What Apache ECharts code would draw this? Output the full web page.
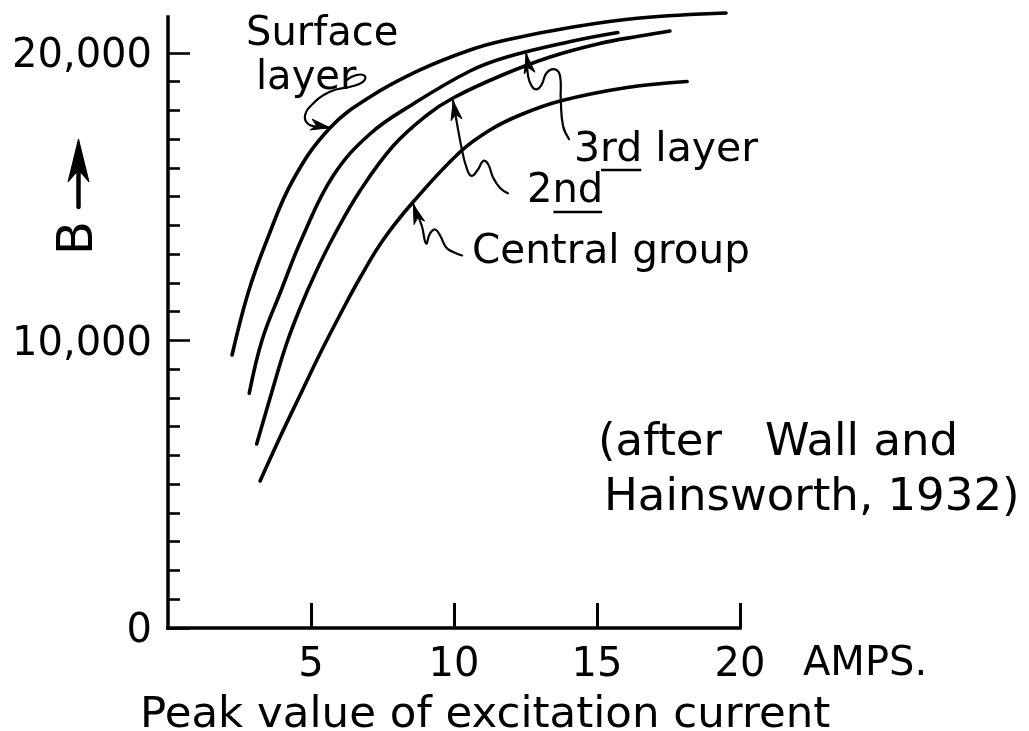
<!DOCTYPE html>
<html>
<head>
<meta charset="utf-8">
<title>B versus peak excitation current</title>
<script src="https://cdn.jsdelivr.net/npm/echarts@6/dist/echarts.min.js"></script>
<style>
  html, body { margin: 0; padding: 0; background: #fff; }
  #chart { width: 1029px; height: 731px; }
</style>
</head>
<body>
<div id="chart"></div>
<script>
// Flux density B against peak value of the excitation current (amps), one curve per layer.
const surfaceLayer = [[2.24, 9495], [2.80, 11651], [3.46, 13494], [4.37, 15581], [5.66, 17389], [7.06, 18468], [8.81, 19407], [10.56, 20102], [11.82, 20450], [14.16, 20902], [16.50, 21215], [19.51, 21389]];
const thirdLayer = [[2.84, 8163], [3.29, 10016], [3.92, 11651], [4.72, 13633], [5.77, 15720], [7.06, 17181], [8.57, 18224], [10.56, 19372], [11.85, 19859], [14.16, 20415], [15.73, 20711]];
const secondLayer = [[3.10, 6399], [3.63, 8208], [4.13, 9842], [4.62, 11129], [5.17, 12381], [5.80, 13633], [6.71, 15198], [7.87, 16763], [9.06, 17842], [9.97, 18433], [11.61, 19198], [13.36, 19859], [15.10, 20329], [16.50, 20589], [17.55, 20763]];
const centralGroup = [[3.22, 5113], [3.92, 6643], [4.62, 8104], [5.31, 9529], [6.01, 10886], [6.71, 12173], [7.52, 13494], [8.57, 14816], [10.21, 16555], [11.26, 17320], [12.31, 17842], [13.71, 18329], [16.05, 18798], [18.15, 19007]];

// Axis ticks and labels
const xTickValues = [5, 10, 15, 20];
const yMajorValues = [0, 10000, 20000];
const yMinorValues = [1000, 2000, 3000, 4000, 5000, 6000, 7000, 8000, 9000,
                      11000, 12000, 13000, 14000, 15000, 16000, 17000, 18000, 19000];

// Curve captions: where each arrow points to on its curve (amps, B)
const captionTips = {
  surface: [5.66, 17400],
  third: [12.53, 19950],
  second: [9.97, 18330],
  central: [8.58, 14720]
};

const FONT = 'DejaVu Sans';
const INK = '#000';

const chart = echarts.init(document.getElementById('chart'), null, { renderer: 'canvas' });

function curve(name, data) {
  return {
    name: name,
    type: 'line',
    data: data,
    xAxisIndex: 0,
    yAxisIndex: 0,
    showSymbol: false,
    smooth: 0.4,
    clip: false,
    lineStyle: { color: INK, width: 3.6, cap: 'round' },
    emphasis: { disabled: true },
    z: 3
  };
}

chart.setOption({
  animation: false,
  backgroundColor: '#fff',
  textStyle: { fontFamily: FONT, color: INK },
  grid: { left: 168, top: 17, width: 572, height: 611, containLabel: false, outerBoundsMode: 'none' },
  xAxis: {
    type: 'value',
    min: 0,
    max: 20,
    interval: 5,
    axisLine: { show: true, lineStyle: { color: INK, width: 3.5, cap: 'square' } },
    axisTick: { show: true, inside: true, length: 25, customValues: xTickValues, lineStyle: { color: INK, width: 3 } },
    axisLabel: { show: true, customValues: xTickValues, color: INK, fontFamily: FONT, fontSize: 40, margin: 18 },
    splitLine: { show: false }
  },
  yAxis: [
    {
      type: 'value',
      min: 0,
      max: 21250,
      position: 'left',
      axisLine: { show: true, lineStyle: { color: INK, width: 3.5, cap: 'square' } },
      axisTick: { show: true, inside: true, length: 22, customValues: yMajorValues, lineStyle: { color: INK, width: 2.6 } },
      axisLabel: {
        show: true, customValues: yMajorValues, color: INK, fontFamily: FONT, fontSize: 40, margin: 16,
        formatter: v => '{n|' + v.toLocaleString('en-US') + '}',
        rich: { n: { fontFamily: FONT, fontSize: 40, color: INK, padding: [8, 0, 0, 0] } }
      },
      splitLine: { show: false }
    },
    {
      type: 'value',
      min: 0,
      max: 21250,
      position: 'left',
      axisLine: { show: false },
      axisTick: { show: true, inside: true, length: 12, customValues: yMinorValues, lineStyle: { color: INK, width: 2.6 } },
      axisLabel: { show: false },
      splitLine: { show: false }
    }
  ],
  series: [
    curve('Surface layer', surfaceLayer),
    curve('3rd layer', thirdLayer),
    curve('2nd', secondLayer),
    curve('Central group', centralGroup)
  ]
});

// ---- captions, leaders and the B arrow ----
const measureCtx = document.createElement('canvas').getContext('2d');
function textWidth(str, size) {
  measureCtx.font = size + 'px "' + FONT + '"';
  return measureCtx.measureText(str).width;
}

function label(text, x, y, size) {
  return {
    type: 'text', x: x, y: y, z: 10, silent: true,
    style: { text: text, fill: INK, font: size + 'px "' + FONT + '"', align: 'left', verticalAlign: 'middle' }
  };
}

function arrowHead(tip, from, len, half) {
  const dx = tip[0] - from[0], dy = tip[1] - from[1];
  const d = Math.hypot(dx, dy) || 1;
  const ux = dx / d, uy = dy / d, nx = -uy, ny = ux;
  const bx = tip[0] - ux * len, by = tip[1] - uy * len;
  const mx = tip[0] - ux * len * 0.72, my = tip[1] - uy * len * 0.72;
  return {
    type: 'polygon', z: 10, silent: true,
    shape: { points: [tip, [bx + nx * half, by + ny * half], [mx, my], [bx - nx * half, by - ny * half]] },
    style: { fill: INK, stroke: INK, lineWidth: 1 }
  };
}

// leader drawn from the caption towards the tip; offsets are pixels from the tip
function leader(tipData, offsets) {
  const tip = chart.convertToPixel({ xAxisIndex: 0, yAxisIndex: 0 }, tipData);
  const pts = offsets.map(o => [tip[0] + o[0], tip[1] + o[1]]);
  const prev = pts[pts.length - 3];
  return [
    {
      type: 'polyline', z: 10, silent: true,
      shape: { points: pts, smooth: 0.45 },
      style: { stroke: INK, lineWidth: 2.2, fill: null, lineCap: 'round', lineJoin: 'round' }
    },
    arrowHead(pts[pts.length - 1], prev, 19, 5.5)
  ];
}

const elements = [];

// Surface layer
elements.push(label('Surface', 246, 35, 40));
elements.push(label('layer', 256, 79, 40));
elements.push(...leader(captionTips.surface, [
  [16.7, -47.7], [26.7, -52.7], [35, -51.7], [33.3, -46], [23.3, -41.7], [0, -36],
  [-20, -21], [-25, -11], [-21.7, -3.7], [-13.3, -1], [0, 0]
]));

// 3rd layer (with "rd" underlined)
const thirdX = 574, thirdY = 150;
elements.push(label('3rd layer', thirdX, thirdY, 41));
{
  const a = textWidth('3', 41), b = textWidth('3rd', 41);
  elements.push({ type: 'line', z: 10, silent: true,
    shape: { x1: thirdX + a + 1, y1: thirdY + 20, x2: thirdX + b - 1, y2: thirdY + 20 },
    style: { stroke: INK, lineWidth: 2.4 } });
}
elements.push(...leader(captionTips.third, [
  [42.7, 84.7], [36.7, 71.7], [34.4, 45], [33.7, 21.7], [28.7, 15], [20.4, 18.3],
  [15.4, 30], [10.4, 35], [5.4, 31.7], [1.7, 21.7], [0, 0]
]));

// 2nd (with "nd" underlined)
const secondX = 527, secondY = 192;
elements.push(label('2nd', secondX, secondY, 40));
{
  const a = textWidth('2', 40), b = textWidth('2nd', 40);
  elements.push({ type: 'line', z: 10, silent: true,
    shape: { x1: secondX + a + 1, y1: secondY + 20, x2: secondX + b - 1, y2: secondY + 20 },
    style: { stroke: INK, lineWidth: 2.4 } });
}
elements.push(...leader(captionTips.second, [
  [54.7, 92.3], [46.7, 86.7], [40, 76.7], [35, 63.3], [30, 60], [25, 68.3],
  [18.4, 75], [13.4, 66.7], [8.4, 46.7], [3.4, 20], [0, 0]
]));

// Central group
elements.push(label('Central group', 472, 252, 40.5));
elements.push(...leader(captionTips.central, [
  [48.7, 50.7], [38.7, 46.7], [32.7, 42.7], [26.7, 30.7], [21.7, 24.7], [16.7, 28.7],
  [12.7, 38.7], [8.4, 21], [0, 0]
]));

// Source note
elements.push(label('(after   Wall and', 598, 443, 45));
elements.push(label('Hainsworth, 1932)', 604, 498, 45));

// Axis units and title
elements.push(label('AMPS.', 803, 665, 40));
elements.push(label('Peak value of excitation current', 140, 716, 43.5));

// Rotated B with an upward arrow
elements.push({
  type: 'text', x: 79, y: 238, rotation: Math.PI / 2, z: 10, silent: true,
  style: { text: 'B', fill: INK, font: '50px "' + FONT + '"', align: 'center', verticalAlign: 'middle' }
});
elements.push({ type: 'line', z: 10, silent: true,
  shape: { x1: 78.5, y1: 207, x2: 78.5, y2: 172 },
  style: { stroke: INK, lineWidth: 4.5, lineCap: 'round' } });
elements.push(arrowHead([78.5, 139], [78.5, 207], 43, 10.5));

chart.setOption({ graphic: { elements: elements } });
</script>
</body>
</html>
